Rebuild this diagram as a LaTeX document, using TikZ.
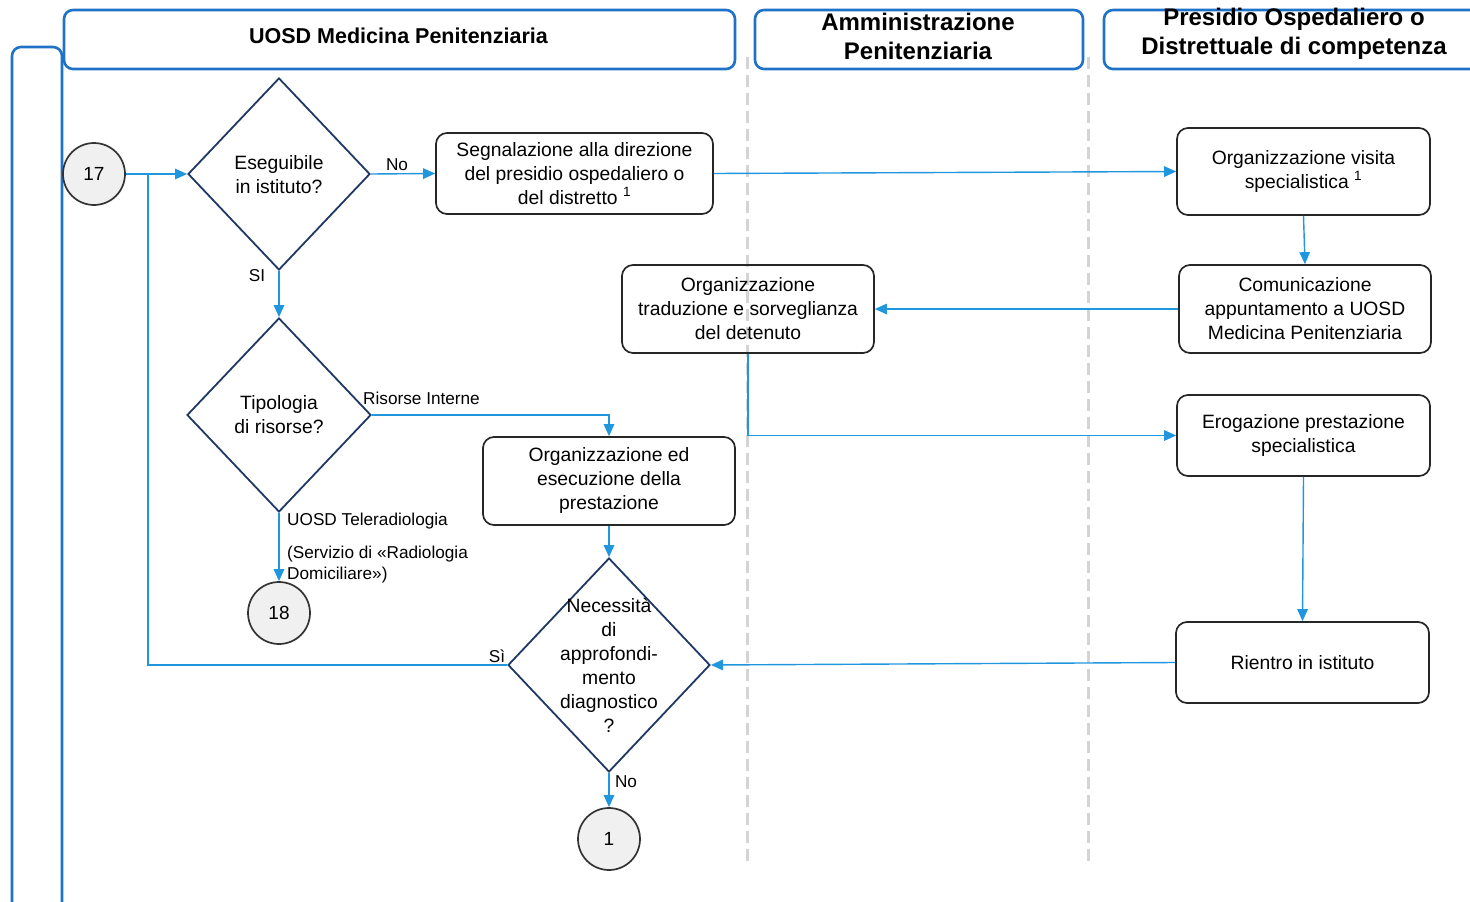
\documentclass[tikz,border=0pt]{standalone}
\usepackage{fontspec}
\setmainfont{Liberation Sans}
\usetikzlibrary{shapes.geometric,arrows.meta}
\definecolor{laneblue}{RGB}{30,115,200}
\definecolor{flowblue}{RGB}{32,150,222}
\definecolor{navy}{RGB}{31,56,100}
\definecolor{sepgray}{RGB}{212,212,212}
\definecolor{circfill}{RGB}{240,240,240}
\tikzset{
  lanehead/.style={draw=laneblue, line width=2.6pt, rounded corners=9pt, font=\fontsize{21.5}{26}\selectfont\bfseries, align=center, inner sep=0pt},
  lanesep/.style={draw=sepgray, line width=3pt, dash pattern=on 12pt off 6pt},
  procbox/.style={draw=black!85, line width=1.7pt, rounded corners=11pt, align=center, inner sep=0pt, font=\fontsize{19.3}{24}\selectfont},
  decision/.style={diamond, draw=navy, line width=1.8pt, inner sep=0pt},
  dtext/.style={align=center, inner sep=0pt, font=\fontsize{19.3}{24}\selectfont},
  connector/.style={circle, draw=black!80, line width=1.7pt, fill=circfill, minimum size=62pt, inner sep=0pt, font=\fontsize{19}{24}\selectfont},
  flow/.style={draw=flowblue, line width=1.4pt},
  flowarrow/.style={flow, -{Triangle[length=12pt,width=10.5pt]}},
  flowlabel/.style={inner sep=0pt, font=\fontsize{17.2}{21}\selectfont},
}
\begin{document}
\begin{tikzpicture}[x=1pt,y=-1pt]
\useasboundingbox (0,0) rectangle (1470,902);
\clip (0,0) rectangle (1470,902);

% lane separators
\draw[lanesep] (747,57) -- (747,866);
\draw[lanesep] (1088,57) -- (1088,866);

% swimlane frame and headers
\draw[draw=laneblue, line width=2.6pt, rounded corners=9pt] (12,47) rectangle (62,930);
\node[lanehead, minimum width=671pt, minimum height=59pt] (h1) at (399.5,39.5) {};
\node[inner sep=0pt, font=\fontsize{21.5}{26}\selectfont\bfseries] (h1t) at (398.5,36) {UOSD Medicina Penitenziaria};
\node[lanehead, minimum width=328pt, minimum height=59pt] (h2) at (919,39.5) {};
\node[inner sep=0pt, align=center, font=\fontsize{24}{29}\selectfont\bfseries] (h2t) at (918,36) {Amministrazione\\Penitenziaria};
\node[lanehead, minimum width=390pt, minimum height=59pt] (h3) at (1299,39.5) {};
\node[inner sep=0pt, align=center, font=\fontsize{24}{29}\selectfont\bfseries] (h3t) at (1294,34) {Presidio Ospedaliero o\\Distrettuale di competenza};

% start / end connectors
\node[connector] (c17) at (94,174) {17};
\node[connector] (c18) at (279,613) {18};
\node[connector] (c1) at (609,839) {1};

% decisions
\node[decision, minimum width=182pt, minimum height=192pt] (d1) at (279,174) {};
\node[dtext] (d1t) at (279,175) {Eseguibile\\in istituto?};
\node[decision, minimum width=184pt, minimum height=194pt] (d2) at (279,415) {};
\node[dtext] (d2t) at (279,415) {Tipologia\\di risorse?};
\node[decision, minimum width=202pt, minimum height=214pt] (d3) at (609,665) {};
\node[dtext] (d3t) at (609,665) {Necessità\\di\\approfondi-\\mento\\diagnostico\\?};

% process steps
\node[procbox, minimum width=277pt, minimum height=81pt] (seg) at (574.5,173.5) {Segnalazione alla direzione\\del presidio ospedaliero o\\del distretto \textsuperscript{1}};
\node[procbox, minimum width=253pt, minimum height=87pt] (ov) at (1303.5,171.5) {\raisebox{-3pt}{\shortstack{Organizzazione visita\\specialistica \textsuperscript{1}}}};
\node[procbox, minimum width=252pt, minimum height=88pt] (com) at (1305,309) {Comunicazione\\appuntamento a UOSD\\Medicina Penitenziaria};
\node[procbox, minimum width=252pt, minimum height=88pt] (ot) at (748,309) {Organizzazione\\traduzione e sorveglianza\\del detenuto};
\node[procbox, minimum width=252pt, minimum height=88pt] (ese) at (609,481) {Organizzazione ed\\esecuzione della\\prestazione};
\node[procbox, minimum width=253pt, minimum height=81pt] (ero) at (1303.5,435.5) {Erogazione prestazione\\specialistica};
\node[procbox, minimum width=253pt, minimum height=81pt] (rie) at (1302.5,662.5) {Rientro in istituto};

\coordinate (loop) at (148,174);

% flow
\draw[flowarrow] (c17) -- (d1.west);
\draw[flowarrow] (d1.east) -- (seg.west);
\draw[flowarrow] (seg.east) -- (ov.west);
\draw[flowarrow] (d1.south) -- (d2.north);
\draw[flowarrow] (ov.south) -- (com.north);
\draw[flowarrow] (com.west) -- (ot.east);
\draw[flowarrow] (ot.south) |- (ero.west);
\draw[flowarrow] (d2.east) -| (ese.north);
\draw[flowarrow] (d2.south) -- (c18.north);
\draw[flowarrow] (ese.south) -- (d3.north);
\draw[flowarrow] (ero.south) -- (rie.north);
\draw[flowarrow] (rie.west) -- (d3.east);
\draw[flow] (d3.west) -| (loop);
\draw[flowarrow] (d3.south) -- (c1.north);

% branch labels
\node[flowlabel] (lno1) at (397,165) {No};
\node[flowlabel] (lsi1) at (257,276) {SI};
\node[flowlabel, anchor=west] (lint) at (363,398) {Risorse Interne};
\node[flowlabel, anchor=west] (ltel) at (287,521) {UOSD Teleradiologia};
\node[flowlabel, anchor=north west, align=left] (lrad) at (287,546) {(Servizio di «Radiologia\\Domiciliare»)};
\node[flowlabel] (lsi3) at (497,656) {Sì};
\node[flowlabel] (lno3) at (626,782) {No};
\end{tikzpicture}
\end{document}
